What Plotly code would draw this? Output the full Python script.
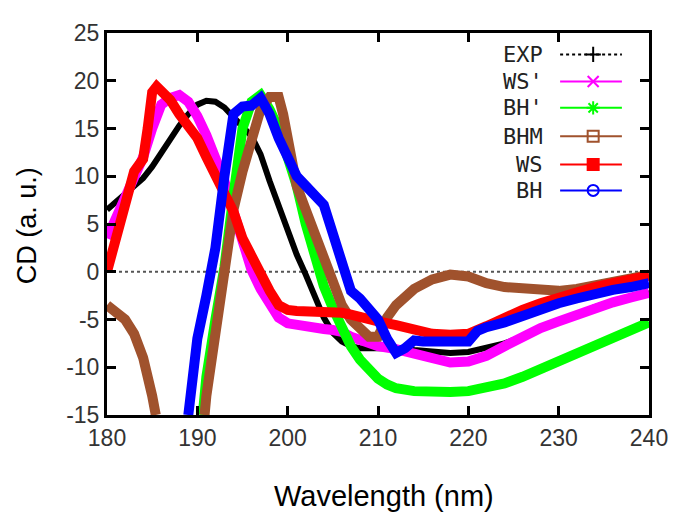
import plotly.graph_objects as go

# ---- data ----
exp_x = [180, 181, 182, 183, 184, 185, 186, 187, 188, 189, 190, 191, 192, 193, 194, 195, 196, 197, 198, 199,
         200, 201, 202, 203, 204, 205, 206, 207, 208, 210, 212, 214, 216, 218, 220, 222, 224, 226, 228, 230,
         232, 234, 236, 238, 240]
exp_y = [6.5, 7.3, 8.2, 9.0, 9.8, 11.0, 12.5, 14.0, 15.3, 16.5, 17.5, 17.9, 17.8, 17.2, 16.3, 15.2, 14.2, 12.3, 9.5, 6.9,
         4.3, 1.8, -0.3, -2.6, -4.8, -6.4, -7.3, -7.8, -8.0, -8.0, -8.0, -8.2, -8.4, -8.5, -8.4, -8.0, -7.5, -6.8, -6.0, -5.2,
         -4.4, -3.7, -3.1, -2.6, -2.2]

wsp_x = [180, 181, 182, 183, 184, 185, 186, 187, 188, 189, 190, 191, 192, 193, 194, 195, 196, 197, 198, 199,
         200, 201, 202, 203, 204, 205, 206, 207, 208, 209, 210, 212, 214, 216, 218, 220, 222, 224, 226, 228,
         230, 232, 234, 236, 238, 240]
wsp_y = [3.5, 5.5, 7.5, 9.5, 12.0, 15.0, 17.5, 18.2, 18.5, 17.8, 16.3, 14.3, 12.0, 9.5, 6.3, 3.0, 0.2, -1.8, -3.5, -4.8,
         -5.4, -5.6, -5.8, -5.9, -6.0, -6.1, -6.3, -6.8, -7.2, -7.5, -7.8, -8.1, -8.6, -9.2, -9.5, -9.4, -8.8, -7.8, -6.8, -5.9,
         -5.2, -4.5, -3.8, -3.2, -2.7, -2.2]

bhp_x = [190.6, 191, 192, 193, 194, 195, 196, 197, 198, 199, 200, 201, 202, 203, 204, 205, 206, 207, 208, 209,
         210, 211, 212, 214, 216, 218, 220, 222, 224, 226, 228, 230, 232, 234, 236, 238, 240]
bhp_y = [-15.0, -11.0, -5.0, 0.5, 8.0, 15.0, 17.8, 18.5, 17.0, 15.0, 12.0, 9.0, 5.0, 1.5, -1.5, -3.8, -6.0, -7.8, -9.2, -10.3,
         -11.2, -11.8, -12.2, -12.5, -12.6, -12.6, -12.5, -12.2, -11.7, -11.0, -10.2, -9.3, -8.4, -7.6, -6.8, -6.0, -5.3]

bhm_x = [180, 181, 182, 183, 184, 185, 185.4, None, 190.8, 191, 192, 193, 194, 195, 196, 197, 198, 199, 199.5, 200,
         201, 202, 203, 204, 205, 206, 207, 208, 209, 210, 211, 212, 213, 214, 216, 218, 220, 222, 224, 226,
         228, 230, 232, 234, 236, 238, 240]
bhm_y = [-3.5, -4.3, -5.0, -6.5, -9.0, -13.0, -15.0, None, -15.0, -13.0, -6.5, 0.0, 6.5, 10.5, 14.0, 17.0, 18.3, 18.3, 16.5, 13.5,
         9.0, 6.5, 4.0, 1.5, -1.2, -3.5, -5.0, -6.0, -6.8, -6.8, -4.8, -3.5, -2.5, -1.8, -0.8, -0.3, -0.5, -1.2, -1.6, -1.8,
         -1.9, -2.0, -1.8, -1.5, -1.1, -0.7, -0.3]

ws_x = [180, 181, 182, 183, 183.5, 184, 184.5, 185, 185.5, 186, 187, 188, 189, 190, 191, 192, 193, 194, 195, 196,
        197, 198, 199, 200, 201, 202, 203, 204, 205, 206, 207, 208, 209, 210, 212, 214, 216, 218, 220, 222,
        224, 226, 228, 230, 232, 234, 236, 238, 240]
ws_y = [0.0, 4.0, 7.0, 10.5, 11.2, 11.8, 15.0, 18.8, 19.4, 19.0, 18.0, 16.5, 15.2, 14.0, 12.0, 10.0, 8.3, 6.3, 3.5, 1.5,
        -0.3, -2.0, -3.5, -4.0, -4.1, -4.1, -4.1, -4.1, -4.2, -4.3, -4.5, -4.8, -5.0, -5.2, -5.6, -6.1, -6.5, -6.6, -6.5, -5.7,
        -4.8, -4.0, -3.3, -2.7, -2.1, -1.6, -1.2, -0.8, -0.4]

bh_x = [189, 190, 191, 192, 193, 194, 195, 196, 197, 198, 199, 200, 201, 202, 203, 204, 205, 206, 207, 208,
        209, 210, 211, 212, 213, 214, 215, 216, 218, 220, 221, 222, 224, 226, 228, 230, 232, 234, 236, 238, 240]
bh_y = [-15.0, -7.0, -2.5, 2.5, 10.0, 16.5, 17.3, 17.4, 18.2, 16.5, 14.0, 12.0, 10.0, 9.0, 7.8, 7.0, 4.0, 0.5, -2.0, -2.8,
        -3.8, -5.0, -7.0, -8.5, -8.0, -7.2, -7.3, -7.3, -7.3, -7.3, -6.2, -5.8, -5.3, -4.6, -3.9, -3.3, -2.8, -2.3, -1.9, -1.6, -1.2]

series_names = ["EXP", "WS'", "BH'", "BHM", "WS", "BH"]
series_colors = ["#000000", "#ff00ff", "#00ff00", "#a0522d", "#ff0000", "#0000ff"]
series_symbols = ["cross-thin", "x-thin", "asterisk", "square-open", "square", "circle-open"]

x_ticks = [180, 190, 200, 210, 220, 230, 240]
y_ticks = [-15, -10, -5, 0, 5, 10, 15, 20, 25]
y_tick_labels = ["-15", "-10", "-5", "0", "5", "10", "15", "20", "25"]

xs = [exp_x, wsp_x, bhp_x, bhm_x, ws_x, bh_x]
ys = [exp_y, wsp_y, bhp_y, bhm_y, ws_y, bh_y]

fig = go.Figure()

# zero line (dotted)
fig.add_trace(go.Scatter(x=[180, 240], y=[0, 0], mode="lines",
                         line=dict(color="#555555", width=2, dash="dot"),
                         showlegend=False, hoverinfo="skip"))

for i, (sx, sy) in enumerate(zip(xs, ys)):
    fig.add_trace(go.Scatter(
        x=sx, y=sy, mode="lines", name=series_names[i],
        line=dict(color=series_colors[i], width=6 if i == 0 else 10),
        showlegend=False, connectgaps=False,
    ))

# manual legend (text right-aligned, sample to the right) on an overlay axis
legend_rows = [0.944, 0.873, 0.804, 0.730, 0.656, 0.588]
for i, name in enumerate(series_names):
    yy = legend_rows[i]
    fig.add_trace(go.Scatter(
        x=[0.836, 0.950], y=[yy, yy], mode="lines", xaxis="x2", yaxis="y2",
        line=dict(color=series_colors[i], width=2, dash="dot" if i == 0 else "solid"),
        showlegend=False, hoverinfo="skip"))
    fig.add_trace(go.Scatter(
        x=[0.897], y=[yy], mode="markers", xaxis="x2", yaxis="y2",
        marker=dict(symbol=series_symbols[i], size=11, color=series_colors[i],
                    line=dict(color=series_colors[i], width=2)),
        showlegend=False, hoverinfo="skip"))
    fig.add_annotation(x=0.808, y=yy, xref="paper", yref="paper", text=name,
                       showarrow=False, xanchor="right", yanchor="middle",
                       font=dict(family="DejaVu Sans Mono", size=22, color="#222222"))

axis_common = dict(showline=True, linecolor="black", linewidth=3, mirror="ticks",
                   ticks="inside", ticklen=9, tickwidth=3, tickcolor="black",
                   showgrid=False, zeroline=False,
                   tickfont=dict(family="Liberation Sans", size=23, color="#333333"))

fig.update_layout(
    width=674, height=517,
    margin=dict(l=99, r=33, t=14, b=110),
    paper_bgcolor="white", plot_bgcolor="white",
    xaxis=dict(range=[180, 240], tickvals=x_ticks, **axis_common),
    yaxis=dict(range=[-15, 25], tickvals=y_ticks, ticktext=y_tick_labels, **axis_common),
    xaxis2=dict(range=[0, 1], overlaying="x", visible=False),
    yaxis2=dict(range=[0, 1], overlaying="y", visible=False),
    showlegend=False,
)

fig.add_annotation(x=0.511, y=-0.211, xref="paper", yref="paper", text="Wavelength (nm)",
                   showarrow=False, xanchor="center", yanchor="middle",
                   font=dict(family="Liberation Sans", size=29, color="black"))
fig.add_annotation(x=-0.148, y=0.496, xref="paper", yref="paper", text="CD (a. u.)",
                   showarrow=False, xanchor="center", yanchor="middle", textangle=-90,
                   font=dict(family="Liberation Sans", size=27, color="black"))

fig.write_html("out.html")
